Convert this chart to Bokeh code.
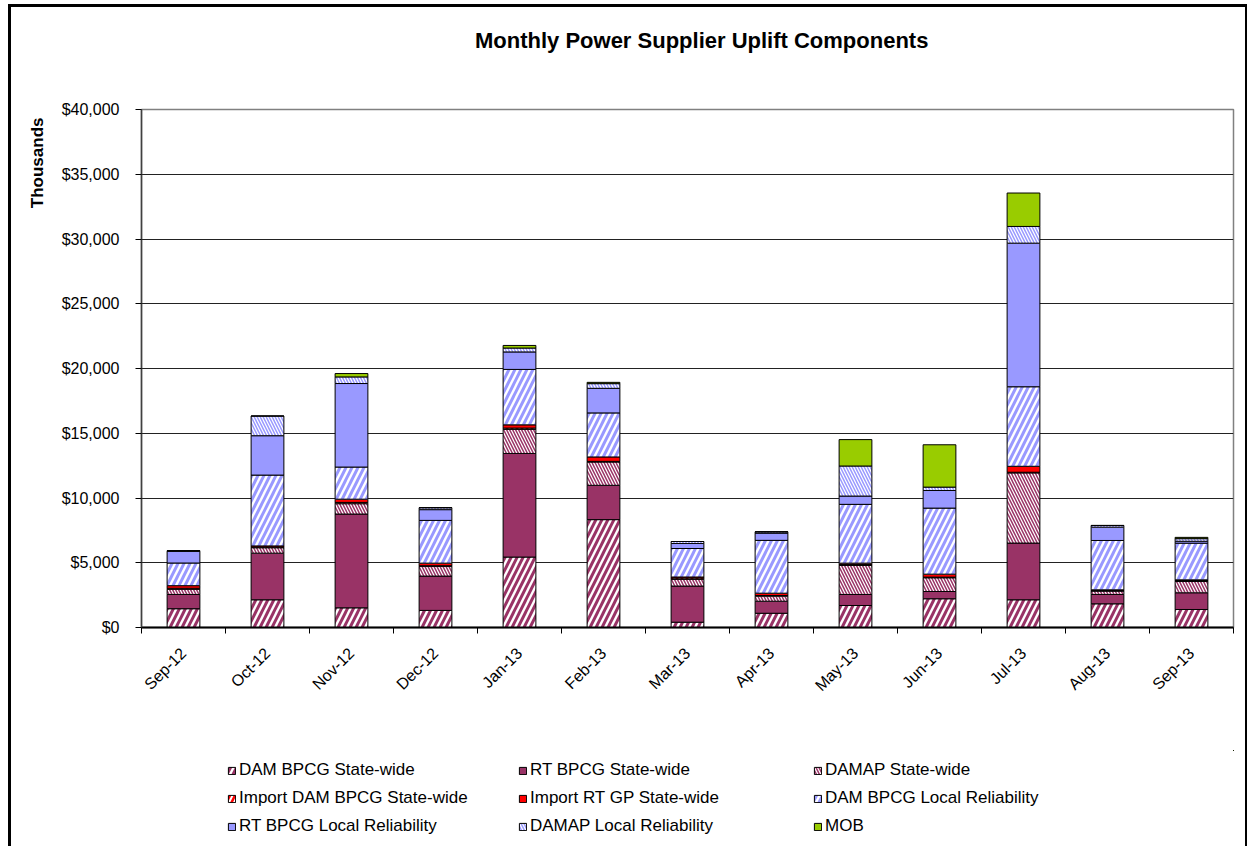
import math
from bokeh.plotting import figure
from bokeh.layouts import column
from bokeh.models import (ColumnDataSource, Range1d, FixedTicker, NumeralTickFormatter,
                          Legend, LegendItem, Title, Label)
from bokeh.embed import file_html
from bokeh.resources import INLINE

# ---------------- data (thousands of $) ----------------
months = ["Sep-12", "Oct-12", "Nov-12", "Dec-12", "Jan-13", "Feb-13", "Mar-13",
          "Apr-13", "May-13", "Jun-13", "Jul-13", "Aug-13", "Sep-13"]

dam_bpcg_sw = [1450, 2140, 1520, 1320, 5440, 8330, 410, 1100, 1700, 2220, 2140, 1830, 1390]
rt_bpcg_sw = [1100, 3600, 7240, 2650, 8000, 2650, 2790, 930, 850, 560, 4380, 720, 1290]
damap_sw = [400, 420, 800, 750, 1860, 1800, 520, 390, 2240, 1060, 5420, 260, 870]
import_dam_sw = [80, 60, 100, 50, 100, 50, 100, 50, 80, 50, 50, 50, 80]
import_rt_gp_sw = [200, 80, 250, 200, 250, 340, 80, 180, 100, 230, 460, 50, 50]
dam_bpcg_lr = [1750, 5470, 2480, 3300, 4280, 3400, 2200, 4080, 4540, 5100, 6140, 3810, 2830]
rt_bpcg_lr = [900, 3040, 6450, 830, 1350, 1900, 390, 560, 640, 1360, 11090, 1030, 150]
damap_lr = [50, 1520, 510, 150, 300, 360, 150, 100, 2320, 260, 1290, 130, 200]
mob = [0, 0, 260, 0, 200, 100, 0, 0, 2040, 3270, 2580, 0, 100]

series_names = ["DAM BPCG State-wide", "RT BPCG State-wide", "DAMAP State-wide",
                "Import DAM BPCG State-wide", "Import RT GP State-wide",
                "DAM BPCG Local Reliability", "RT BPCG Local Reliability",
                "DAMAP Local Reliability", "MOB"]
series_keys = ["dam_bpcg_sw", "rt_bpcg_sw", "damap_sw", "import_dam_sw", "import_rt_gp_sw",
               "dam_bpcg_lr", "rt_bpcg_lr", "damap_lr", "mob"]

y_ticks = [0, 5000, 10000, 15000, 20000, 25000, 30000, 35000, 40000]
title_text = "Monthly Power Supplier Uplift Components"
y_caption = "Thousands"

# ---------------- styles ----------------
MAROON = "#993366"
LBLUE = "#9999FF"
RED = "#FF0000"
GREEN = "#99CC00"
FONT = "Liberation Sans"

fills = ["white", MAROON, "white", "white", RED, "white", LBLUE, "white", GREEN]
hatches = ["/", " ", "\\", "/", " ", "/", " ", "\\", " "]
hatch_colors = [MAROON, MAROON, MAROON, RED, RED, LBLUE, LBLUE, LBLUE, GREEN]
hatch_scales = [12, 12, 6, 10, 12, 12, 12, 6, 12]
hatch_weights = [3, 1, 1.5, 2.5, 1, 3, 1, 1.5, 1]
style_kw = dict(fill_color=fills, hatch_pattern=hatches, hatch_color=hatch_colors,
                hatch_scale=hatch_scales, hatch_weight=hatch_weights,
                line_color="black", line_width=1)

xs = list(range(1, len(months) + 1))
data = dict(x=xs)
for k, vals in zip(series_keys, [dam_bpcg_sw, rt_bpcg_sw, damap_sw, import_dam_sw,
                                 import_rt_gp_sw, dam_bpcg_lr, rt_bpcg_lr, damap_lr, mob]):
    data[k] = vals
source = ColumnDataSource(data)

FIG_W = 1234

# ---------------- title strip ----------------
tfig = figure(width=FIG_W, height=66, output_backend="svg", toolbar_location=None,
              x_axis_type=None, y_axis_type=None, min_border=0,
              x_range=Range1d(0, 1), y_range=Range1d(0, 1))
tfig.outline_line_color = None
tfig.background_fill_color = "white"
tfig.border_fill_color = "white"
tfig.add_layout(Label(x=0.513, y=0.5, text=title_text, text_font=FONT,
                      text_font_size="22px", text_font_style="bold", text_color="black",
                      text_align="center", text_baseline="middle"))

# ---------------- main chart ----------------
p = figure(width=FIG_W, height=677, output_backend="svg", toolbar_location=None,
           x_range=Range1d(0.5, len(months) + 0.5), y_range=Range1d(0, 40000),
           min_border_left=130, min_border_right=12, min_border_top=36,
           min_border_bottom=123)
p.background_fill_color = "white"
p.border_fill_color = "white"
p.outline_line_color = "#808080"
p.outline_line_width = 1.5

ytitle = Title(text=y_caption, text_font=FONT, text_font_size="17px",
               text_font_style="bold", text_color="black", align="right", offset=8,
               standoff=24)
p.add_layout(ytitle, "left")

renderers = p.vbar_stack(series_keys, x="x", width=0.39, source=source, **style_kw)

# grid
p.xgrid.grid_line_color = None
p.ygrid.grid_line_color = "#222222"
p.ygrid.grid_line_width = 1
p.ygrid.ticker = FixedTicker(ticks=y_ticks[1:-1])

# y axis
p.yaxis.ticker = FixedTicker(ticks=y_ticks)
p.yaxis.formatter = NumeralTickFormatter(format="$0,0")
p.yaxis.axis_line_color = "#404040"
p.yaxis.axis_line_width = 1.5
p.yaxis.major_tick_line_color = "black"
p.yaxis.major_tick_out = 6
p.yaxis.major_tick_in = 0
p.yaxis.minor_tick_line_color = None
p.yaxis.major_label_standoff = 16
p.yaxis.major_label_text_font = FONT
p.yaxis.major_label_text_font_size = "16px"
p.yaxis.major_label_text_color = "black"

# x axis: labels at centres, tick marks between categories
p.xaxis.ticker = FixedTicker(ticks=xs, minor_ticks=[x - 0.5 for x in xs] + [len(xs) + 0.5])
p.xaxis.major_label_overrides = {x: m for x, m in zip(xs, months)}
p.xaxis.major_label_orientation = math.pi / 4
p.xaxis.axis_line_color = "black"
p.xaxis.axis_line_width = 2
p.xaxis.major_tick_line_color = None
p.xaxis.major_tick_out = 5
p.xaxis.major_tick_in = 0
p.xaxis.minor_tick_line_color = "black"
p.xaxis.minor_tick_out = 6
p.xaxis.minor_tick_in = 0
p.xaxis.major_label_standoff = 17
p.xaxis.major_label_text_font = FONT
p.xaxis.major_label_text_font_size = "16px"
p.xaxis.major_label_text_color = "black"

# ---------------- legend strip ----------------
# same bars drawn far outside the visible ranges: only their legend swatches show
leg = figure(width=FIG_W, height=96, output_backend="svg", toolbar_location=None,
             x_axis_type=None, y_axis_type=None, min_border=0,
             x_range=Range1d(-30, -20), y_range=Range1d(-30000, -20000))
leg.outline_line_color = None
leg.background_fill_color = "white"
leg.border_fill_color = "white"
leg_renderers = leg.vbar_stack(series_keys, x="x", width=0.39, source=source, **style_kw)

col_x = [86, 377, 672]
for c in range(3):
    items = [LegendItem(label=series_names[c + 3 * r], renderers=[leg_renderers[c + 3 * r]])
             for r in range(3)]
    lg = Legend(items=items, location=(col_x[c], 10), orientation="vertical",
                border_line_color=None, background_fill_alpha=0, padding=0, margin=0,
                spacing=8, label_height=20, glyph_height=9, glyph_width=9,
                label_standoff=3, label_text_font=FONT, label_text_font_size="17px",
                label_text_color="black")
    leg.add_layout(lg)

inner = column(tfig, p, leg, spacing=0, margin=(3, 2, 0, 3),
               styles={"background-color": "white"})
layout = column(inner, spacing=0, margin=(4, 0, 0, 8),
                styles={"background-color": "black"})

open("out.html", "w").write(file_html(layout, INLINE))
